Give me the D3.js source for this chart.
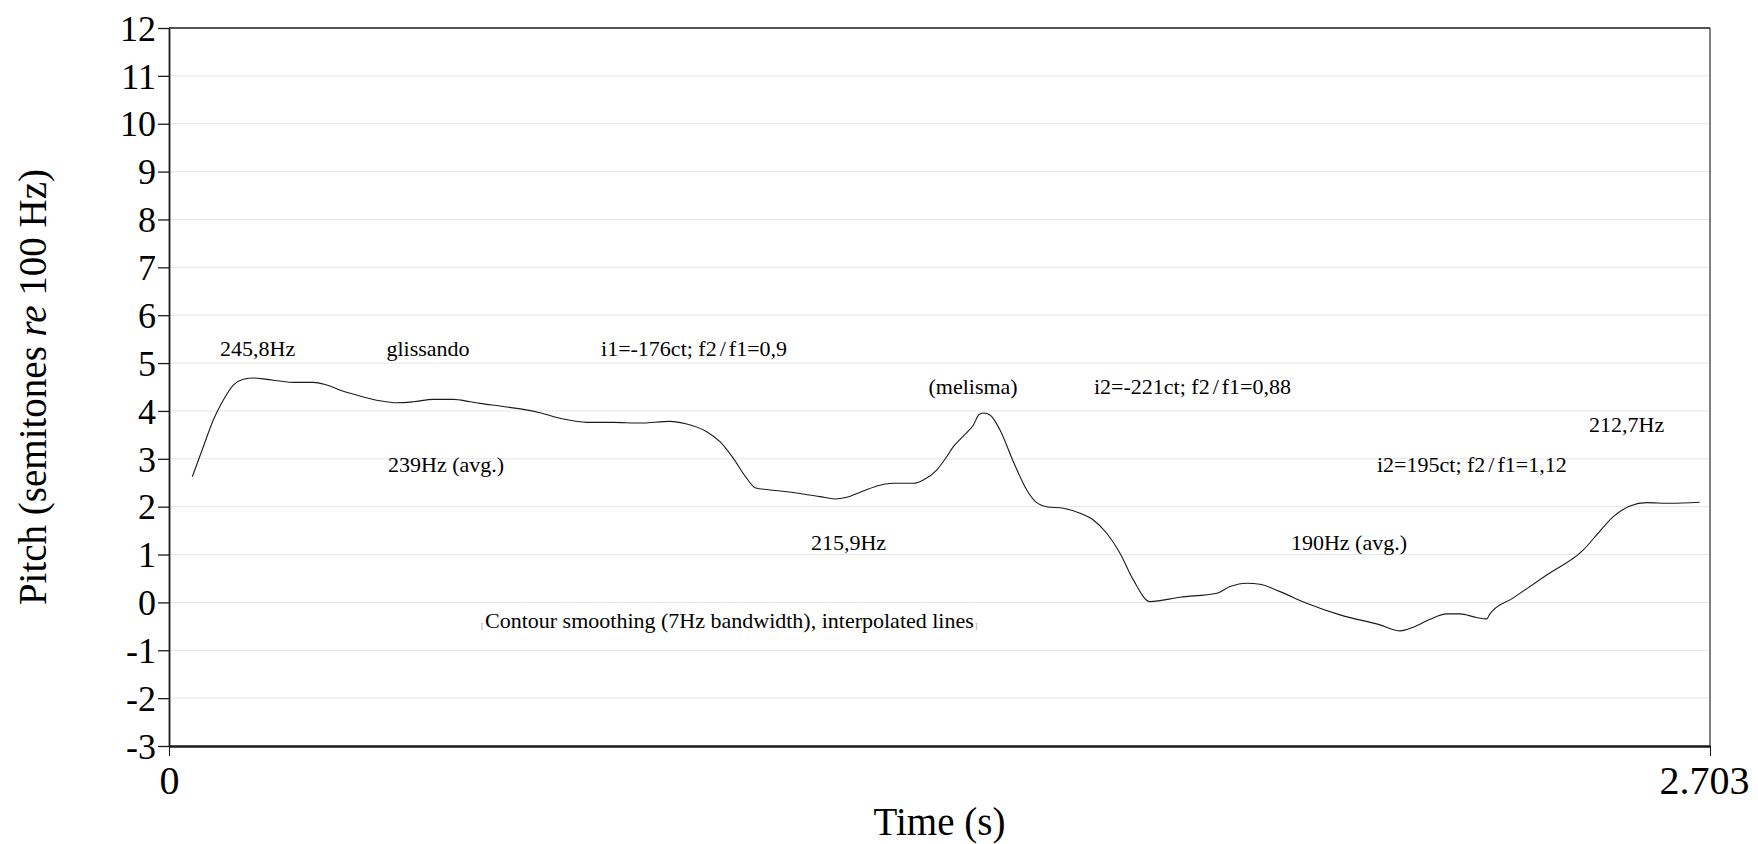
<!DOCTYPE html>
<html>
<head>
<meta charset="utf-8">
<script src="https://cdn.jsdelivr.net/npm/d3@7"></script>
<style>
  html, body { margin: 0; padding: 0; background: #fff; }
  svg { display: block; font-family: "Liberation Serif", "Times New Roman", serif; }
  svg text { font-family: "Liberation Serif", "Times New Roman", serif; }
</style>
</head>
<body>
<svg id="chart" width="1758" height="844"></svg>
<script>
// Smoothed pitch contour (time in s, pitch in semitones re 100 Hz)
const times = [
  0.0409, 0.0602, 0.0777, 0.0953, 0.1128, 0.1304, 0.1479, 0.1713, 0.1947, 0.2181,
  0.2531, 0.2766, 0.3058, 0.3350, 0.3701, 0.3994, 0.4286, 0.4636, 0.4987, 0.5280,
  0.5455, 0.5806, 0.6215, 0.6508, 0.6917, 0.7327, 0.7794, 0.8262, 0.8788, 0.9081,
  0.9432, 0.9665, 0.9899, 1.0133, 1.0279, 1.0542, 1.0717, 1.1126, 1.1419, 1.1682,
  1.1887, 1.2179, 1.2471, 1.2705, 1.3056, 1.3231, 1.3466, 1.3642, 1.3758, 1.3933,
  1.4109, 1.4214, 1.4296, 1.4401, 1.4576, 1.4810, 1.5045, 1.5220, 1.5396, 1.5688,
  1.5980, 1.6213, 1.6448, 1.6681, 1.6915, 1.7208, 1.7734, 1.8378, 1.8611, 1.8903,
  1.9137, 1.9488, 1.9956, 2.0541, 2.1242, 2.1593, 2.1827, 2.2119, 2.2411, 2.2645,
  2.2937, 2.3113, 2.3170, 2.3579, 2.4165, 2.4808, 2.5042, 2.5334, 2.5627, 2.5919,
  2.6323, 2.6849
];
const semitones = [
  2.626, 3.253, 3.810, 4.228, 4.541, 4.660, 4.687, 4.660, 4.624, 4.597,
  4.597, 4.541, 4.410, 4.311, 4.213, 4.171, 4.192, 4.242, 4.242, 4.192,
  4.158, 4.102, 4.033, 3.962, 3.831, 3.762, 3.762, 3.747, 3.782, 3.727,
  3.566, 3.357, 3.010, 2.593, 2.397, 2.349, 2.328, 2.265, 2.209, 2.161,
  2.196, 2.328, 2.447, 2.488, 2.488, 2.557, 2.766, 3.044, 3.253, 3.476,
  3.706, 3.929, 3.956, 3.914, 3.601, 2.940, 2.349, 2.084, 2.000, 1.967,
  1.862, 1.722, 1.444, 1.027, 0.470, 0.017, 0.109, 0.192, 0.330, 0.401,
  0.380, 0.225, -0.017, -0.261, -0.470, -0.595, -0.518, -0.351, -0.240, -0.240,
  -0.317, -0.345, -0.240, 0.094, 0.572, 1.096, 1.409, 1.791, 2.015, 2.084,
  2.071, 2.092
];

// Axis ticks
const yTicks = [-3, -2, -1, 0, 1, 2, 3, 4, 5, 6, 7, 8, 9, 10, 11, 12];
const xTicks = [0, 2.703];
const xTickLabels = ["0", "2.703"];
const xDomain = [0, 2.703];
const yDomain = [-3, 12];

// Text annotations placed in data coordinates (time, semitones)
const noteTexts = ["245,8Hz", "glissando", "i1=-176ct; f2/f1=0,9", "239Hz (avg.)",
  "(melisma)", "i2=-221ct; f2/f1=0,88", "215,9Hz", "212,7Hz",
  "i2=195ct; f2/f1=1,12", "190Hz (avg.)", "Contour smoothing (7Hz bandwidth), interpolated lines"];
const noteTimes = [0.0895, 0.3815, 0.7578, 0.3842, 1.3322, 1.6225, 1.1260, 2.4908, 2.1189, 1.9680, 0.5543];
const noteSemitones = [5.146, 5.146, 5.146, 2.724, 4.353, 4.353, 1.094, 3.560, 2.724, 1.094, -0.534];

const svg = d3.select("#chart");
const plotLeft = 169, plotRight = 1710, plotTop = 28, plotBottom = 746;
const serif = "'Liberation Serif', 'Times New Roman', serif";

const x = d3.scaleLinear().domain(xDomain).range([plotLeft, plotRight]);
const y = d3.scaleLinear().domain(yDomain).range([plotBottom, plotTop]);

// light horizontal grid
svg.append("g")
  .selectAll("line")
  .data(yTicks.filter(v => v > yDomain[0] && v < yDomain[1]))
  .join("line")
  .attr("x1", plotLeft).attr("x2", plotRight)
  .attr("y1", d => y(d)).attr("y2", d => y(d))
  .attr("stroke", "#e6e6e6").attr("stroke-width", 1);

// pitch contour
const pts = times.map((t, i) => [t, semitones[i]]);
svg.append("path")
  .datum(pts)
  .attr("fill", "none")
  .attr("stroke", "#1a1a1a")
  .attr("stroke-width", 1.1)
  .attr("d", d3.line().x(d => x(d[0])).y(d => y(d[1])).curve(d3.curveMonotoneX));

// frame: top and right edges
svg.append("line").attr("x1", plotLeft).attr("x2", plotRight).attr("y1", plotTop).attr("y2", plotTop)
  .attr("stroke", "#1a1a1a").attr("stroke-width", 1.6);
svg.append("line").attr("x1", plotRight).attr("x2", plotRight).attr("y1", plotTop).attr("y2", plotBottom)
  .attr("stroke", "#1a1a1a").attr("stroke-width", 1.1);

// left axis (plain hyphen for negatives)
const yAxis = svg.append("g")
  .attr("transform", `translate(${plotLeft},0)`)
  .call(d3.axisLeft(y).tickValues(yTicks).tickFormat(d => String(d)).tickSize(11).tickPadding(2).tickSizeOuter(0));
yAxis.attr("font-family", serif);
yAxis.select(".domain").attr("stroke", "#1a1a1a").attr("stroke-width", 1.8);
yAxis.selectAll(".tick line").attr("stroke", "#1a1a1a").attr("stroke-width", 1.3);
yAxis.selectAll(".tick text")
  .attr("fill", "#000")
  .attr("font-size", 36)
  .attr("dy", "0.34em");

// bottom axis
const xAxis = svg.append("g")
  .attr("transform", `translate(0,${plotBottom})`)
  .call(d3.axisBottom(x).tickValues(xTicks).tickFormat((d, i) => xTickLabels[i]).tickSize(10).tickPadding(4).tickSizeOuter(0));
xAxis.attr("font-family", serif);
xAxis.select(".domain").attr("stroke", "#1a1a1a").attr("stroke-width", 2.4);
xAxis.selectAll(".tick line").attr("stroke", "#1a1a1a").attr("stroke-width", 1.1);
xAxis.selectAll(".tick text")
  .attr("fill", "#000")
  .attr("font-size", 40)
  .attr("dy", null)
  .attr("y", 48);
// keep the last label inside the page
xAxis.selectAll(".tick text").filter(d => d === xDomain[1]).attr("dx", -6);

// axis titles
svg.append("text")
  .attr("x", (plotLeft + plotRight) / 2).attr("y", 835)
  .attr("text-anchor", "middle")
  .attr("font-family", serif)
  .attr("font-size", 39)
  .text("Time (s)");

const yTitle = svg.append("text")
  .attr("transform", `translate(46,${(plotTop + plotBottom) / 2}) rotate(-90)`)
  .attr("text-anchor", "middle")
  .attr("font-family", serif)
  .attr("font-size", 39);
yTitle.append("tspan").text("Pitch (semitones ");
yTitle.append("tspan").attr("font-style", "italic").text("re");
yTitle.append("tspan").text(" 100 Hz)");

// annotations; the slash in ratios gets a little extra room
const notes = svg.append("g").attr("font-family", serif).attr("font-size", 22).attr("fill", "#000");
noteTexts.forEach((txt, i) => {
  const t = notes.append("text")
    .attr("x", x(noteTimes[i]))
    .attr("y", y(noteSemitones[i]));
  if (txt.includes("/")) {
    const k = txt.indexOf("/");
    t.append("tspan").text(txt.slice(0, k));
    t.append("tspan").attr("dx", 3).text("/");
    t.append("tspan").attr("dx", 3).text(txt.slice(k + 1));
  } else {
    t.text(txt);
  }
});

// tiny brackets around the method caption
const capIdx = noteTexts.length - 1;
const capNode = notes.selectAll("text").filter((d, i) => i === capIdx).node();
const capX = x(noteTimes[capIdx]), capY = y(noteSemitones[capIdx]);
const capW = capNode.getComputedTextLength();
svg.append("text").attr("x", capX - 4).attr("y", capY + 1)
  .attr("font-family", serif).attr("font-size", 8).attr("fill", "#999").text("[");
svg.append("text").attr("x", capX + capW + 1).attr("y", capY + 1)
  .attr("font-family", serif).attr("font-size", 8).attr("fill", "#999").text("]");
</script>
</body>
</html>
